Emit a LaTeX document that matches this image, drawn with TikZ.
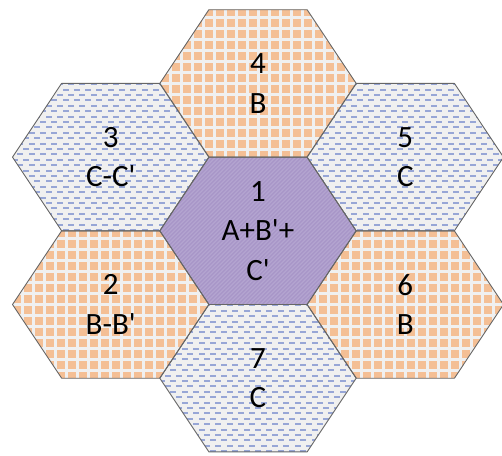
\documentclass[tikz,border=0pt]{standalone}
\usepackage{fontspec}
\setmainfont{Carlito}
\definecolor{org}{HTML}{F4BF95}
\definecolor{bgg}{HTML}{F0F0F0}
\definecolor{bld}{HTML}{97A6D6}
\definecolor{pur}{HTML}{A896C8}
\definecolor{purl}{HTML}{B3A4D0}
\definecolor{edgec}{HTML}{666666}
\newcommand\hexat[2]{(#1-98.2,#2) -- (#1-49.1,#2-73.7) -- (#1+49.1,#2-73.7) -- (#1+98.2,#2) -- (#1+49.1,#2+73.7) -- (#1-49.1,#2+73.7) -- cycle}
\newcommand\gridhex[2]{%
  \begin{scope}
    \clip \hexat{#1}{#2};
    \fill[org] \hexat{#1}{#2};
    \foreach \k in {-10,...,10} {\fill[bgg] ({#1+\k*11-1.5},{#2-80}) rectangle ++(3,160);}
    \foreach \k in {-8,...,8} {\fill[bgg] ({#1-100},{#2+\k*11-1.5}) rectangle ++(200,3);}
  \end{scope}}
\newcommand\dashhex[2]{%
  \begin{scope}
    \clip \hexat{#1}{#2};
    \fill[bgg] \hexat{#1}{#2};
    \foreach \r in {0,...,29} {
      \foreach \c in {-10,...,10} {
        \fill[bld] ({#1+\c*11.3+mod(\r,2)*5.65-3},{#2-78.3+\r*5.4-1}) rectangle ++(6,2);
      }
    }
  \end{scope}}
\newcommand\purhex[2]{%
  \begin{scope}
    \clip \hexat{#1}{#2};
    \fill[pur] \hexat{#1}{#2};
    \foreach \k in {0,...,90} {\draw[purl, line width=1.3pt] ({#1-260+\k*4},{#2+80}) -- ++(160,-160);}
  \end{scope}}
\tikzset{
  lbl/.style={align=center, font=\fontsize{31}{39.5}\selectfont, text=black, inner sep=0pt},
  hexedge/.style={draw=edgec, line width=0.9pt, line join=round}
}
\begin{document}
\begin{tikzpicture}[x=1pt,y=-1pt]
\useasboundingbox (0,0) rectangle (502,455);
\gridhex{258}{83.4}
\gridhex{110.7}{304.5}
\gridhex{405.3}{304.5}
\dashhex{110.7}{157.1}
\dashhex{405.3}{157.1}
\dashhex{258}{378.2}
\purhex{258}{230.8}
\foreach \cx/\cy in {258/83.4, 110.7/304.5, 405.3/304.5, 110.7/157.1, 405.3/157.1, 258/378.2, 258/230.8}
  {\draw[hexedge] \hexat{\cx}{\cy};}
\node[lbl] (t1) at (258,231) {1\\A+B\textquotesingle+\\C\textquotesingle};
\node[lbl] (t4) at (258,83.4) {4\\B};
\node[lbl] (t3) at (110.7,157.1) {3\\C-C\textquotesingle};
\node[lbl] (t5) at (405.3,157.1) {5\\C};
\node[lbl] (t2) at (110.7,304.5) {2\\B-B\textquotesingle};
\node[lbl] (t6) at (405.3,304.5) {6\\B};
\node[lbl] (t7) at (258,378.2) {7\\C};
\end{tikzpicture}
\end{document}
